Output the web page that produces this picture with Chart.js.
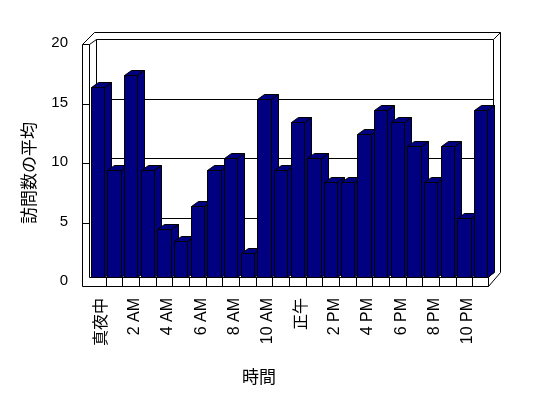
<!DOCTYPE html>
<html>
<head>
<meta charset="utf-8">
<script src="https://cdn.jsdelivr.net/npm/chart.js@4/dist/chart.umd.min.js"></script>
<style>
body { margin: 0; background: #fff; }
</style>
</head>
<body>
<canvas id="chart" width="548" height="398"></canvas>
<script>
const hours = ['真夜中', '1 AM', '2 AM', '3 AM', '4 AM', '5 AM', '6 AM', '7 AM', '8 AM', '9 AM', '10 AM', '11 AM',
               '正午', '1 PM', '2 PM', '3 PM', '4 PM', '5 PM', '6 PM', '7 PM', '8 PM', '9 PM', '10 PM', '11 PM'];
const visits = [16, 9, 17, 9, 4, 3, 6, 9, 10, 2, 15, 9, 13, 10, 8, 8, 12, 14, 13, 11, 8, 11, 5, 14];
const yTicks = [0, 5, 10, 15, 20];
const xTitle = '時間';
const yTitle = '訪問数の平均';

const NAVY = '#000080';

// draws the 3D box, the bars and the axis titles by hand
const box3d = {
    id: 'box3d',
    beforeDatasetsDraw(chart) {
        const ctx = chart.ctx;
        const xs = chart.scales.x, ys = chart.scales.y;
        const L = xs.left, R = xs.right, T = ys.top, B = ys.bottom;

        ctx.save();
        ctx.strokeStyle = '#000';
        ctx.lineWidth = 1;
        ctx.translate(0.5, 0.5);

        const line = (x1, y1, x2, y2) => {
            ctx.beginPath();
            ctx.moveTo(Math.round(x1), Math.round(y1));
            ctx.lineTo(Math.round(x2), Math.round(y2));
            ctx.stroke();
        };

        // back wall and its gridlines
        line(L + 7, T, R + 4, T);
        line(L + 7, T, L + 7, B);
        line(R + 4, T, R + 4, B - 5);
        line(R + 4, B - 5, R - 1, B);
        yTicks.forEach(v => {
            if (v === 0 || v === 20) return;
            const py = ys.getPixelForValue(v);
            line(L + 7, py, R + 4, py);
        });
        // wall thickness (top / right)
        line(L + 5, T - 7, R + 11, T - 7);
        line(R + 11, T - 7, R + 11, B - 5);
        line(R + 4, T, R + 11, T - 7);
        line(L - 7, T + 5, L + 5, T - 7);
        line(L, T + 5, L + 7, T);
        line(R + 11, B - 5, R - 1, B + 9);

        // left strip
        line(L - 7, T + 5, L, T + 5);
        line(L - 7, T + 5, L - 7, B + 9);
        line(L, T + 5, L, B);
        yTicks.forEach(v => {
            if (v === 0 || v === 20) return;
            const py = ys.getPixelForValue(v) + 5;
            line(L - 7, py, L, py);
        });
        // floor strip
        line(L, B, R - 1, B);
        line(L - 7, B + 9, R - 1, B + 9);
        line(R - 1, B, R - 1, B + 9);
        for (let i = 1; i < hours.length; i++) {
            const px = (xs.getPixelForTick(i - 1) + xs.getPixelForTick(i)) / 2;
            line(px, B, px, B + 9);
        }
        ctx.restore();

        // bars: side, top, front
        ctx.save();
        ctx.fillStyle = NAVY;
        ctx.strokeStyle = '#000';
        ctx.lineWidth = 1;
        const dx = 7, dy = 5;
        chart.getDatasetMeta(0).data.forEach(bar => {
            const p = bar.getProps(['x', 'y', 'base', 'width'], true);
            const x1 = Math.round(p.x - p.width / 2) + 0.5;
            const x2 = Math.round(p.x + p.width / 2) + 0.5;
            const top = Math.round(p.y) + 0.5;
            const bot = Math.round(p.base) + 0.5;
            const poly = pts => {
                ctx.beginPath();
                ctx.moveTo(pts[0][0], pts[0][1]);
                for (let k = 1; k < pts.length; k++) ctx.lineTo(pts[k][0], pts[k][1]);
                ctx.closePath();
                ctx.fill();
                ctx.stroke();
            };
            poly([[x2, top], [x2 + dx, top - dy], [x2 + dx, bot - dy], [x2, bot]]);
            poly([[x1, top], [x1 + dx, top - dy], [x2 + dx, top - dy], [x2, top]]);
            poly([[x1, top], [x2, top], [x2, bot], [x1, bot]]);
        });
        ctx.restore();

        // axis titles
        ctx.save();
        ctx.fillStyle = '#000';
        ctx.font = '17px "Noto Sans CJK JP"';
        ctx.textAlign = 'center';
        ctx.textBaseline = 'middle';
        ctx.fillText(xTitle, 259, 377);
        ctx.translate(29, 173);
        ctx.rotate(-Math.PI / 2);
        ctx.fillText(yTitle, 0, 0);
        ctx.restore();
        return false;
    }
};

new Chart(document.getElementById('chart'), {
    type: 'bar',
    data: {
        labels: hours,
        datasets: [{
            label: yTitle,
            data: visits,
            backgroundColor: NAVY,
            barPercentage: 0.8,
            categoryPercentage: 1
        }]
    },
    options: {
        responsive: false,
        animation: false,
        layout: { padding: { top: 39, right: 59, left: 0, bottom: 0 } },
        plugins: { legend: { display: false }, tooltip: { enabled: false } },
        scales: {
            x: {
                grid: { display: false, drawTicks: false },
                border: { display: false },
                afterFit: scale => { scale.height = 121; },
                ticks: {
                    autoSkip: false,
                    maxRotation: 90,
                    minRotation: 90,
                    padding: 21,
                    labelOffset: 4,
                    color: '#000',
                    font: { family: '"Liberation Sans", "Noto Sans CJK JP"', size: 16 },
                    callback: function(value, index) {
                        return index % 2 === 0 ? hours[index] : '';
                    }
                }
            },
            y: {
                min: 0,
                max: 20,
                grid: { display: false, drawTicks: false },
                border: { display: false },
                afterFit: scale => { scale.width = 89; },
                afterBuildTicks: scale => { scale.ticks = yTicks.map(v => ({ value: v })); },
                ticks: {
                    padding: 21,
                    labelOffset: 4,
                    color: '#000',
                    font: { family: '"Liberation Sans"', size: 15 }
                }
            }
        }
    },
    plugins: [box3d]
});
</script>
</body>
</html>
